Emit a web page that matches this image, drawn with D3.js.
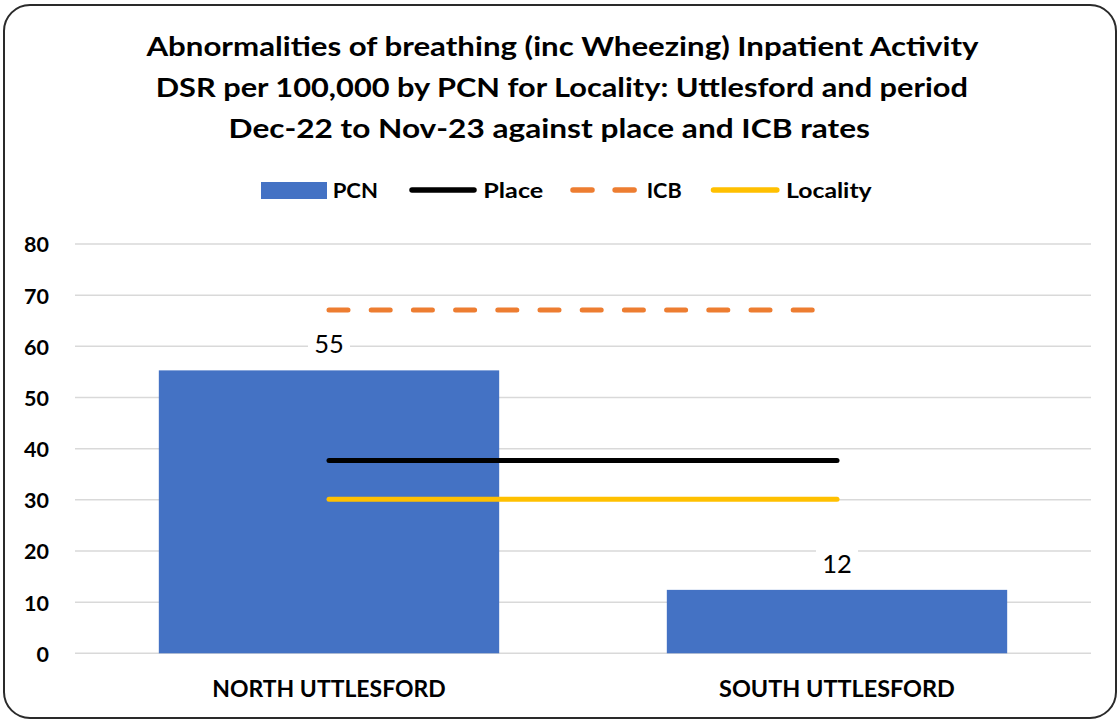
<!DOCTYPE html>
<html>
<head>
<meta charset="utf-8">
<script src="https://cdn.jsdelivr.net/npm/d3@7"></script>
<style>
  html, body { margin: 0; padding: 0; background: #ffffff; }
  svg { display: block; }
  text { font-family: Lato, "Open Sans", "Liberation Sans", sans-serif; }
</style>
</head>
<body>
<svg id="chart" width="1120" height="721"></svg>
<script>
// ---- data ----
const categories = ["NORTH UTTLESFORD", "SOUTH UTTLESFORD"];
const pcnValues = [55.3, 12.4];
const placeValues = [37.7, 37.7];
const icbValues = [67.1, 67.1];
const localityValues = [30.1, 30.1];
const yTicks = [0, 10, 20, 30, 40, 50, 60, 70, 80];
const pcnLabels = ["55", "12"];
const titleLines = [
  "Abnormalities of breathing (inc Wheezing) Inpatient Activity",
  "DSR per 100,000 by PCN for Locality: Uttlesford and period",
  "Dec-22 to Nov-23 against place and ICB rates"
];
const legendLabels = ["PCN", "Place", "ICB", "Locality"];

// ---- layout / style ----
const W = 1120, H = 721;
const plotLeft = 75, plotRight = 1091, plotTop = 244, plotBottom = 653.3;
const colors = { pcn: "#4472C4", place: "#000000", icb: "#ED7D31", locality: "#FFC000" };
// dash pattern: 12 dashes then the rest of the line left blank (as in the reference)
const icbDash = Array(11).fill("19 23.2").join(" ") + " 19 400";

const svg = d3.select("#chart");

// border
svg.append("rect")
  .attr("x", 4).attr("y", 5).attr("width", 1112).attr("height", 713)
  .attr("rx", 26).attr("ry", 26)
  .attr("fill", "#ffffff").attr("stroke", "#2a2a2a").attr("stroke-width", 2);

// title
const titleLayout = [
  { x: 146.4, y: 56, w: 832.2 },
  { x: 155.7, y: 96.7, w: 812.2 },
  { x: 228.6, y: 137.7, w: 641.4 }
];
svg.append("g").selectAll("text").data(titleLines).join("text")
  .attr("x", (d, i) => titleLayout[i].x)
  .attr("y", (d, i) => titleLayout[i].y)
  .attr("textLength", (d, i) => titleLayout[i].w)
  .attr("lengthAdjust", "spacingAndGlyphs")
  .attr("font-size", 27.5).attr("font-weight", 700).attr("fill", "#000")
  .text(d => d);

// scales
const x = d3.scaleBand().domain(categories).range([plotLeft, plotRight])
  .paddingInner(0.33).paddingOuter(0.165);
const y = d3.scaleLinear().domain([0, 80]).range([plotBottom, plotTop]);

// gridlines
svg.append("g").selectAll("line").data(yTicks).join("line")
  .attr("x1", plotLeft).attr("x2", plotRight)
  .attr("y1", d => y(d)).attr("y2", d => y(d))
  .attr("stroke", "#d9d9d9").attr("stroke-width", 1.5);

// y axis
const yAxis = svg.append("g").attr("transform", `translate(${plotLeft},0)`)
  .call(d3.axisLeft(y).tickValues(yTicks).tickSize(0).tickPadding(26).tickFormat(d3.format("d")));
yAxis.select(".domain").remove();
yAxis.selectAll("text")
  .attr("font-family", "Lato, 'Open Sans', sans-serif")
  .attr("font-size", 21.5).attr("font-weight", 700).attr("fill", "#000")
  .attr("dy", "0.37em");

// x axis
const xAxis = svg.append("g").attr("transform", `translate(0,${plotBottom})`)
  .call(d3.axisBottom(x).tickSize(0).tickPadding(28));
xAxis.select(".domain").remove();
const xLabelWidths = [233.4, 235.8];
xAxis.selectAll("text")
  .attr("font-family", "Lato, 'Open Sans', sans-serif")
  .attr("font-size", 22).attr("font-weight", 700).attr("fill", "#000")
  .attr("textLength", (d, i) => xLabelWidths[i])
  .attr("lengthAdjust", "spacingAndGlyphs");

// bars
svg.append("g").selectAll("rect").data(pcnValues).join("rect")
  .attr("x", (d, i) => x(categories[i]))
  .attr("y", d => y(d))
  .attr("width", x.bandwidth())
  .attr("height", d => y(0) - y(d))
  .attr("fill", colors.pcn);

// reference lines
const cx = i => x(categories[i]) + x.bandwidth() / 2;
const lineGen = d3.line().x((d, i) => cx(i)).y(d => y(d));
svg.append("path").datum(icbValues).attr("d", lineGen)
  .attr("fill", "none").attr("stroke", colors.icb).attr("stroke-width", 5)
  .attr("stroke-linecap", "round").attr("stroke-dasharray", icbDash);
svg.append("path").datum(placeValues).attr("d", lineGen)
  .attr("fill", "none").attr("stroke", colors.place).attr("stroke-width", 5)
  .attr("stroke-linecap", "round");
svg.append("path").datum(localityValues).attr("d", lineGen)
  .attr("fill", "none").attr("stroke", colors.locality).attr("stroke-width", 5)
  .attr("stroke-linecap", "round");

// data labels
const lbl = svg.append("g");
pcnValues.forEach((v, i) => {
  const by = y(v) - 17;
  lbl.append("rect")
    .attr("x", cx(i) - 21).attr("y", by - 23).attr("width", 42).attr("height", 26)
    .attr("fill", "#ffffff");
  lbl.append("text")
    .attr("x", cx(i)).attr("y", by)
    .attr("text-anchor", "middle")
    .attr("font-size", 25.5).attr("font-weight", 400).attr("fill", "#000")
    .text(pcnLabels[i]);
});

// legend
const lg = svg.append("g");
const legY = 190, legBase = 197.7;
lg.append("rect").attr("x", 261).attr("y", 182).attr("width", 66).attr("height", 17).attr("fill", colors.pcn);
lg.append("line").attr("x1", 412).attr("x2", 474).attr("y1", legY).attr("y2", legY)
  .attr("stroke", colors.place).attr("stroke-width", 5.5).attr("stroke-linecap", "round");
lg.append("line").attr("x1", 573).attr("x2", 635).attr("y1", legY).attr("y2", legY)
  .attr("stroke", colors.icb).attr("stroke-width", 5.5).attr("stroke-linecap", "round")
  .attr("stroke-dasharray", "19 23.1");
lg.append("line").attr("x1", 713.5).attr("x2", 776.8).attr("y1", legY).attr("y2", legY)
  .attr("stroke", colors.locality).attr("stroke-width", 5.5).attr("stroke-linecap", "round");
const legText = [
  { x: 332.7, w: 45.3 },
  { x: 483.3, w: 60 },
  { x: 646.7, w: 35 },
  { x: 786, w: 85.7 }
];
lg.selectAll("text.leg").data(legendLabels).join("text")
  .attr("class", "leg")
  .attr("x", (d, i) => legText[i].x).attr("y", legBase)
  .attr("textLength", (d, i) => legText[i].w)
  .attr("lengthAdjust", "spacingAndGlyphs")
  .attr("font-size", 21.5).attr("font-weight", 700).attr("fill", "#000")
  .text(d => d);
</script>
</body>
</html>
